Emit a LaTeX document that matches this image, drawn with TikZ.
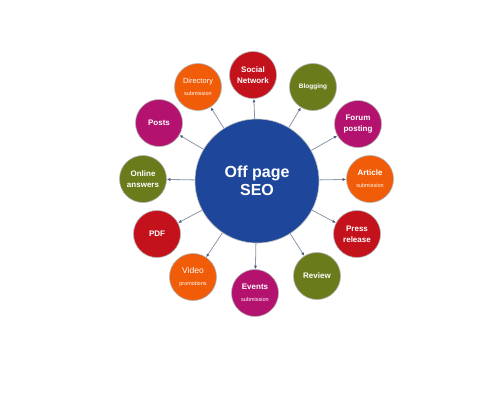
\documentclass[tikz,border=0pt]{standalone}
\usepackage{fontspec}
\setmainfont{Liberation Sans}
\usepackage{tikz}
\usetikzlibrary{arrows.meta}
\definecolor{seoblue}{HTML}{1E479C}
\definecolor{topicred}{HTML}{C4121C}
\definecolor{topicorange}{HTML}{F05C08}
\definecolor{topicmagenta}{HTML}{B3136F}
\definecolor{topicolive}{HTML}{6A7B1C}
\definecolor{spokegray}{HTML}{8E97A6}
\definecolor{tipblue}{HTML}{4B5B7E}
\newcommand{\maintxt}[1]{{\fontsize{8}{9}\selectfont\bfseries #1}}
\newcommand{\subtxt}[1]{{\fontsize{5.5}{6}\selectfont #1}}
\tikzset{
  hub/.style={circle,fill=seoblue,draw=black!25,line width=.6pt,
    minimum size=124pt,inner sep=0pt,align=center,text=white,
    font=\fontsize{16}{18}\selectfont\bfseries},
  topic/.style={circle,draw=black!30,line width=.6pt,minimum size=47pt,
    inner sep=0pt,align=center,text=white},
  spoke/.style={-{Latex[length=3.5pt,width=3pt,color=tipblue]},
    line width=.8pt,draw=spokegray}}

\begin{document}
\begin{tikzpicture}[x=1pt,y=-1pt]
  \useasboundingbox (0,0) rectangle (500,400);

  \node[hub] (seo) at (257,181) {Off page\\SEO};

  \node[topic,fill=topicred] (social) at (253,75)
    {\maintxt{Social}\\[-1pt]\maintxt{Network}};
  \node[topic,fill=topicorange] (directory) at (198,87)
    {{\fontsize{7.5}{8}\selectfont Directory}\\\subtxt{submission}};
  \node[topic,fill=topicmagenta] (posts) at (159,123) {\maintxt{Posts}};
  \node[topic,fill=topicolive] (blogging) at (313,87)
    {{\fontsize{6.5}{7}\selectfont\bfseries Blogging}};
  \node[topic,fill=topicmagenta] (forum) at (358,124)
    {\maintxt{Forum}\\[-1pt]\maintxt{posting}};
  \node[topic,fill=topicolive] (online) at (143,179)
    {\maintxt{Online}\\[-1pt]\maintxt{answers}};
  \node[topic,fill=topicorange] (article) at (370,179)
    {\maintxt{Article}\\\subtxt{submission}};
  \node[topic,fill=topicred] (pdf) at (157,234) {\maintxt{PDF}};
  \node[topic,fill=topicred] (press) at (357,234)
    {\maintxt{Press}\\[-1pt]\maintxt{release}};
  \node[topic,fill=topicorange] (video) at (193,277)
    {{\fontsize{8.5}{9}\selectfont Video}\\\subtxt{promotions}};
  \node[topic,fill=topicolive] (review) at (317,276) {\maintxt{Review}};
  \node[topic,fill=topicmagenta] (events) at (255,293)
    {\maintxt{Events}\\\subtxt{submission}};

  \draw[spoke] (seo) -- (social);
  \draw[spoke] (seo) -- (directory);
  \draw[spoke] (seo) -- (posts);
  \draw[spoke] (seo) -- (blogging);
  \draw[spoke] (seo) -- (forum);
  \draw[spoke] (seo) -- (online);
  \draw[spoke] (seo) -- (article);
  \draw[spoke] (seo) -- (pdf);
  \draw[spoke] (seo) -- (press);
  \draw[spoke] (seo) -- (video);
  \draw[spoke] (seo) -- (review);
  \draw[spoke] (seo) -- (events);
\end{tikzpicture}
\end{document}
